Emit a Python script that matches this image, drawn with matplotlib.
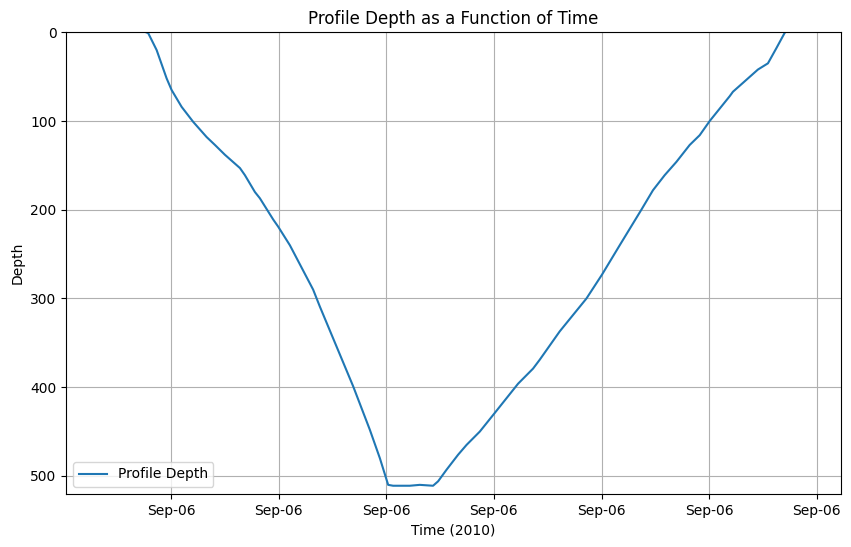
import numpy as np
import pandas as pd
import matplotlib
matplotlib.use("Agg")
import matplotlib.pyplot as plt
import matplotlib.dates as mdates

# profile trace: minutes after 14:00 on 2010-09-06, depth
minutes = [3.55, 7.49, 7.89, 8.67, 9.60, 10.06, 10.99, 12.07, 13.31, 14.09,
           15.01, 16.41, 16.87, 17.80, 18.26, 19.50, 19.96, 21.05, 23.21, 23.83,
           26.93, 28.48, 29.41, 30.18, 30.64, 32.19, 33.12, 34.35, 34.82, 35.60,
           36.68, 37.46, 38.69, 40.08, 42.25, 43.64, 44.26, 46.12, 48.60, 50.05,
           51.69, 53.70, 54.78, 55.87, 56.96, 58.19, 59.12, 60.05, 61.91, 62.21,
           63.14, 64.53, 65.46, 66.24, 67.00, 68.98]
depth = [-3, -1, 1, 20, 52, 65, 84, 101, 118, 127,
         138, 153, 161, 180, 187, 211, 219, 240, 290, 309,
         399, 448, 480, 510, 511, 511, 510, 511, 506, 493,
         476, 465, 450, 429, 396, 379, 369, 337, 300, 273,
         240, 200, 178, 161, 146, 127, 116, 100, 72, 67,
         57, 42, 35, 18, 1, -30]

t0 = pd.Timestamp("2010-09-06 14:00:00")
times = [t0 + pd.Timedelta(minutes=m) for m in minutes]

fig = plt.figure(figsize=(8.51, 5.47), dpi=100)
ax = fig.add_axes([0.0779, 0.0969, 0.9104, 0.8441])
ax.plot(times, depth, label="Profile Depth")
ax.set_ylim(520.3, 0)
ax.xaxis.set_major_locator(mdates.MinuteLocator(byminute=range(0, 60, 10)))
ax.xaxis.set_major_formatter(mdates.DateFormatter("%b-%d"))
ax.set_xlabel("Time (2010)")
ax.set_ylabel("Depth")
ax.set_title("Profile Depth as a Function of Time")
ax.grid(True)
ax.legend(loc="lower left")
fig.savefig("out.png", dpi=100)
